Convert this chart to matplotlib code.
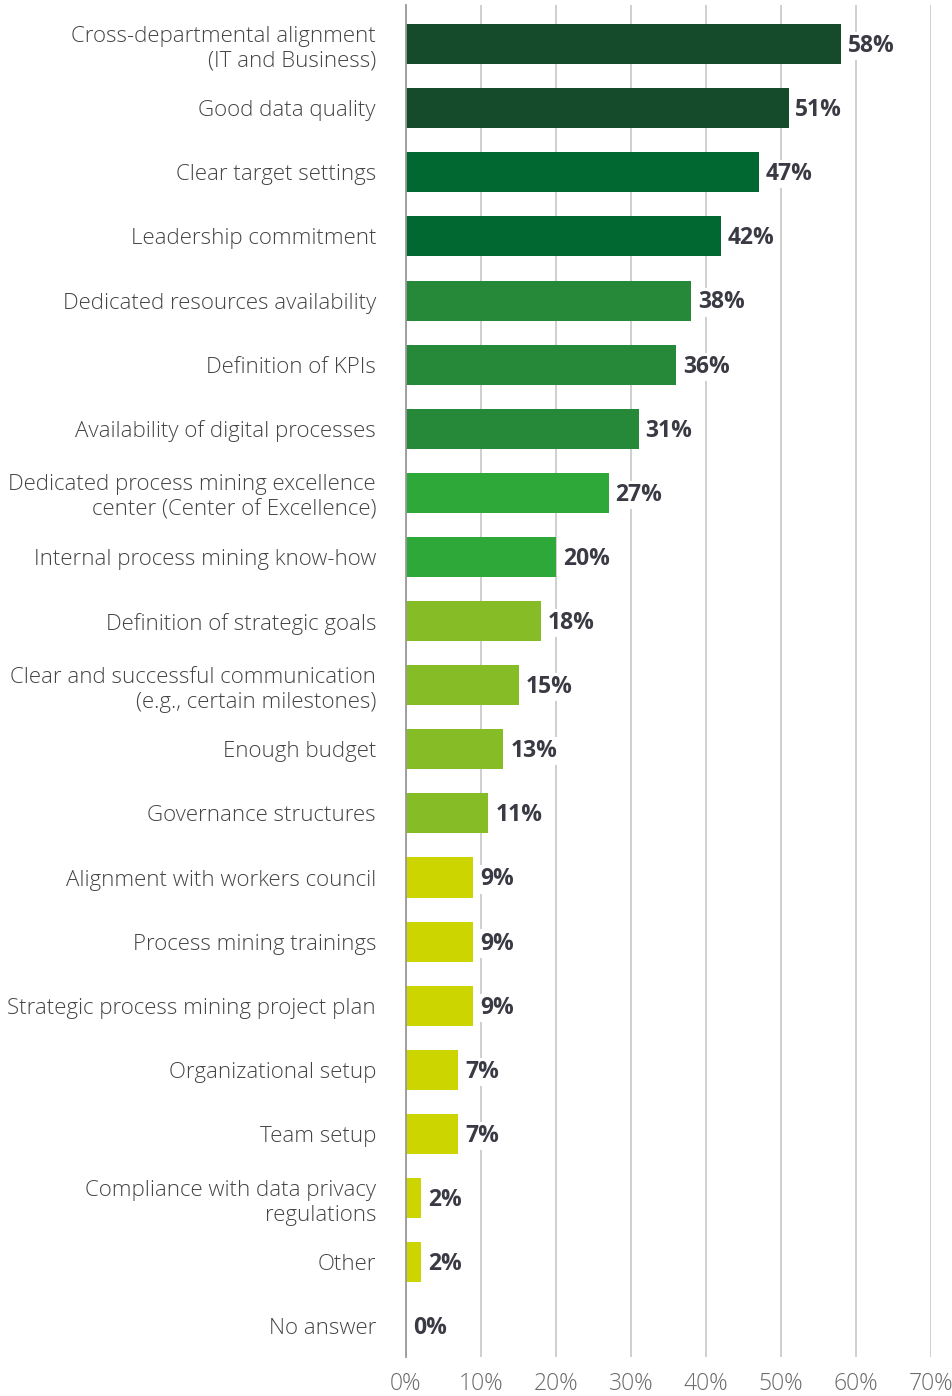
import numpy as np
import matplotlib
matplotlib.use("Agg")
from matplotlib import pyplot as plt

categories = [
    "Cross-departmental alignment\n(IT and Business)",
    "Good data quality",
    "Clear target settings",
    "Leadership commitment",
    "Dedicated resources availability",
    "Definition of KPIs",
    "Availability of digital processes",
    "Dedicated process mining excellence\ncenter (Center of Excellence)",
    "Internal process mining know-how",
    "Definition of strategic goals",
    "Clear and successful communication\n(e.g., certain milestones)",
    "Enough budget",
    "Governance structures",
    "Alignment with workers council",
    "Process mining trainings",
    "Strategic process mining project plan",
    "Organizational setup",
    "Team setup",
    "Compliance with data privacy\nregulations",
    "Other",
    "No answer",
]
values = [58, 51, 47, 42, 38, 36, 31, 27, 20, 18, 15, 13, 11, 9, 9, 9, 7, 7, 2, 2, 0]
colors = (["#154a2b"] * 2 + ["#006830"] * 2 + ["#26893a"] * 3 + ["#2ea838"] * 2
          + ["#86bc25"] * 4 + ["#cdd500"] * 8)

plt.rcParams['font.family'] = ['Open Sans', 'DejaVu Sans']

fig = plt.figure(figsize=(9.53, 13.96), dpi=100)
ax = fig.add_axes([0.426, 0.0279, 0.551, 0.9685])

y = np.arange(len(categories))
ax.barh(y, values, height=0.625, color=colors, zorder=2)

for yi, v in zip(y, values):
    ax.text(v + 0.9, yi + 0.03, f"{v}%", va="center", ha="left", fontsize=16.5,
            fontweight="bold", color="#3a3a45", zorder=3,
            bbox=dict(facecolor="white", edgecolor="none", pad=1.5))

ax.set_xlim(0, 70)
ax.set_ylim(20.48, -0.61)
ax.set_xticks(np.arange(0, 71, 10))
ax.set_xticklabels([f"{t}%" for t in range(0, 71, 10)], fontsize=16.5,
                   color="#6a6a6a", fontweight="light")
ax.set_yticks(y)
ax.set_yticklabels(categories, fontsize=16, color="#444444",
                   fontweight="light", linespacing=1.25)
ax.tick_params(axis="y", length=0, pad=21.5)
ax.tick_params(axis="x", length=0, pad=11)

ax.grid(axis="x", color="#cccccc", linewidth=1.3, zorder=0)
for s in ["top", "right", "bottom"]:
    ax.spines[s].set_visible(False)
ax.spines["left"].set_color("#999999")
ax.spines["left"].set_linewidth(1.3)
ax.spines["left"].set_zorder(4)

plt.savefig("out.png", dpi=100)
